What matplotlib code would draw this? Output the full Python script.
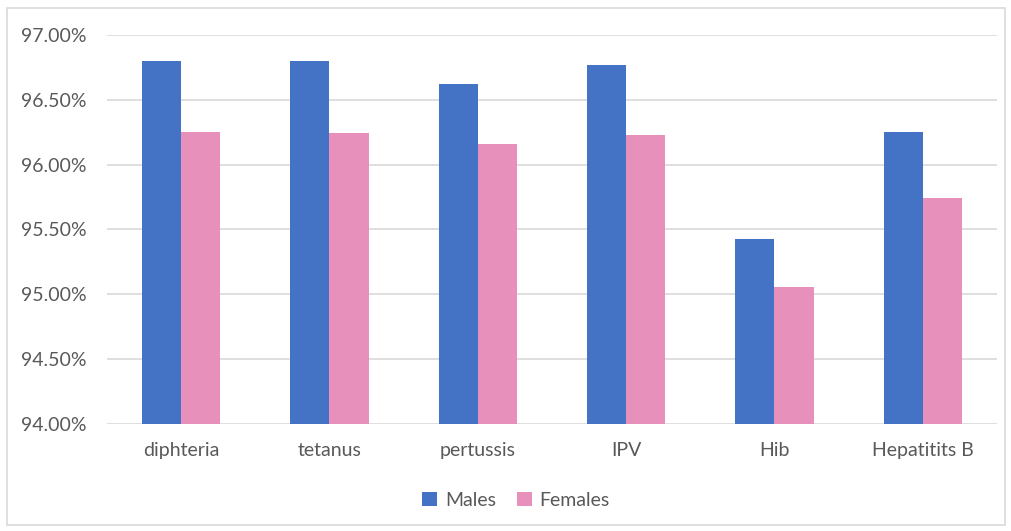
import matplotlib
matplotlib.use("Agg")
import matplotlib.pyplot as plt
from matplotlib.patches import Rectangle
import numpy as np

categories = ["diphteria", "tetanus", "pertussis", "IPV", "Hib", "Hepatitits B"]
males = [96.795, 96.80, 96.62, 96.77, 95.43, 96.25]
females = [96.25, 96.24, 96.155, 96.23, 95.06, 95.745]
y_ticks = [94.0, 94.5, 95.0, 95.5, 96.0, 96.5, 97.0]

blue = "#4472C4"
pink = "#E890BC"
text_gray = "#595959"
grid_gray = "#D9D9D9"

plt.rcParams["font.family"] = ["Lato", "DejaVu Sans"]

fig = plt.figure(figsize=(10.12, 5.31), dpi=100)
fig.patch.set_facecolor("white")
# thin frame around the chart area
fig.add_artist(Rectangle((7 / 1012, 6 / 531), 998 / 1012, 517 / 531,
                         transform=fig.transFigure, fill=False,
                         edgecolor="#D9D9D9", linewidth=1.2))

ax = fig.add_axes([107 / 1012, 1 - 424.3 / 531, 890 / 1012, 389.6 / 531])

x = np.arange(len(categories))
w = 0.263
ax.bar(x - w / 2, males, width=w, color=blue, label="Males", zorder=3)
ax.bar(x + w / 2, females, width=w, color=pink, label="Females", zorder=3)

ax.set_xlim(-0.5, len(categories) - 0.5)
ax.set_ylim(94.0, 97.0)
ax.set_yticks(y_ticks)
ax.set_yticklabels([f"{v:.2f}%" for v in y_ticks])
ax.set_xticks(x)
ax.set_xticklabels(categories)

ax.grid(axis="y", color=grid_gray, linewidth=1.2, zorder=0)
for s in ax.spines.values():
    s.set_visible(False)
ax.tick_params(axis="both", length=0, colors=text_gray, labelsize=14)
ax.tick_params(axis="y", pad=14.5)
ax.tick_params(axis="x", pad=13)

leg = fig.legend(loc="center", bbox_to_anchor=(0.51, 1 - 500 / 531), ncol=2,
                 frameon=False, fontsize=14, handlelength=0.75, handleheight=0.75,
                 columnspacing=1.1, handletextpad=0.4)
for t in leg.get_texts():
    t.set_color(text_gray)

fig.savefig("out.png", dpi=100, facecolor="white")
